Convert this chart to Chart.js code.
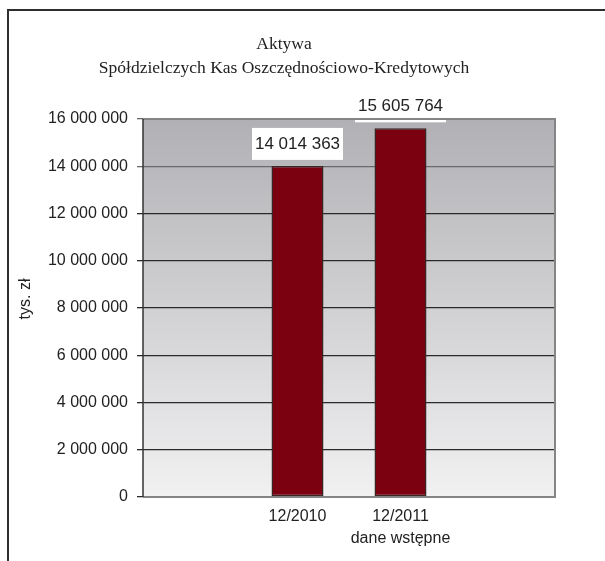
<!DOCTYPE html>
<html>
<head>
<meta charset="utf-8">
<script src="https://cdn.jsdelivr.net/npm/chart.js@4"></script>
<style>
  html, body { margin: 0; padding: 0; background: #fff; }
  #wrap { width: 605px; height: 561px; position: relative; }
</style>
</head>
<body>
<div id="wrap"><canvas id="chart" width="605" height="561"></canvas></div>
<script>
// dane wykresu
const kategorie = ['', '12/2010', ['12/2011', 'dane wstępne'], ''];
const aktywa = [null, 14014363, 15605764, null];
const tytul = ['Aktywa', 'Spółdzielczych Kas Oszczędnościowo-Kredytowych'];
const tytulOsiY = 'tys. zł';
const osY = { min: 0, max: 16000000, krok: 2000000 };

const SANS = "'Liberation Sans', Arial, sans-serif";
const SERIF = "'Liberation Serif', 'Times New Roman', serif";

function formatuj(v) {
    return String(Math.round(v)).replace(/\B(?=(\d{3})+(?!\d))/g, ' ');
}

// ramka, tlo gradientowe, tytul
const tloPlugin = {
    id: 'tlo',
    beforeDraw(chart) {
        const ctx = chart.ctx;
        const a = chart.chartArea;
        ctx.save();
        // ramka zewnetrzna
        ctx.strokeStyle = '#2e2e2e';
        ctx.lineWidth = 2;
        ctx.beginPath();
        ctx.moveTo(8, 561);
        ctx.lineTo(8, 10);
        ctx.lineTo(605, 10);
        ctx.stroke();
        // gradient obszaru wykresu
        const g = ctx.createLinearGradient(0, a.top, 0, a.bottom);
        g.addColorStop(0, '#b1b1b5');
        g.addColorStop(1, '#f1f1f2');
        ctx.fillStyle = g;
        ctx.fillRect(a.left, a.top, a.right - a.left, a.bottom - a.top);
        // tytul
        ctx.fillStyle = '#222';
        ctx.font = '17.5px ' + SERIF;
        ctx.textAlign = 'center';
        ctx.textBaseline = 'middle';
        ctx.fillText(tytul[0], 284, 44);
        ctx.fillText(tytul[1], 284, 68);
        // tytul osi Y
        ctx.font = '16px ' + SANS;
        ctx.translate(26, 299);
        ctx.rotate(-Math.PI / 2);
        ctx.fillText(tytulOsiY, 0, 0);
        ctx.restore();
    },
    afterDraw(chart) {
        const ctx = chart.ctx;
        const a = chart.chartArea;
        ctx.save();
        ctx.strokeStyle = '#858585';
        ctx.lineWidth = 2;
        ctx.beginPath();
        ctx.moveTo(a.left, a.top);
        ctx.lineTo(a.right, a.top);
        ctx.lineTo(a.right, a.bottom);
        ctx.lineTo(a.left, a.bottom);
        ctx.stroke();
        ctx.strokeStyle = '#333';
        ctx.lineWidth = 1.5;
        ctx.beginPath();
        ctx.moveTo(a.left, a.top);
        ctx.lineTo(a.left, a.bottom);
        ctx.stroke();
        ctx.restore();
    }
};

// etykiety wartosci w bialych ramkach
const etykietyPlugin = {
    id: 'etykiety',
    afterDatasetsDraw(chart) {
        const ctx = chart.ctx;
        const meta = chart.getDatasetMeta(0);
        ctx.save();
        ctx.font = '17px ' + SANS;
        ctx.textAlign = 'center';
        ctx.textBaseline = 'middle';
        meta.data.forEach((bar, i) => {
            const v = aktywa[i];
            if (v == null) return;
            const w = 91, h = 32;
            const bottom = bar.y - 6;
            ctx.fillStyle = '#fff';
            ctx.fillRect(bar.x - w / 2, bottom - h, w, h);
            ctx.fillStyle = '#222';
            ctx.fillText(formatuj(v), bar.x, bottom - h / 2);
        });
        ctx.restore();
    }
};

new Chart(document.getElementById('chart'), {
    type: 'bar',
    data: {
        labels: kategorie,
        datasets: [{
            data: aktywa,
            backgroundColor: '#7b0010',
            borderColor: '#3a2424',
            borderWidth: 1.5,
            borderSkipped: false,
            categoryPercentage: 1,
            barPercentage: 0.505
        }]
    },
    options: {
        responsive: false,
        animation: false,
        layout: { padding: { top: 119, right: 50, left: 0, bottom: 0 } },
        plugins: {
            legend: { display: false },
            tooltip: { enabled: false }
        },
        scales: {
            x: {
                grid: { display: false, drawTicks: false },
                border: { display: false },
                ticks: {
                    color: '#222',
                    padding: 9,
                    maxRotation: 0,
                    autoSkip: false,
                    font: { family: SANS, size: 16, lineHeight: 1.375 }
                },
                afterFit: (s) => { s.height = 64; }
            },
            y: {
                min: osY.min,
                max: osY.max,
                grid: {
                    color: (c) => (c.tick && c.tick.value >= 14000000 ? '#6a6a6a' : '#2a2a2a'),
                    lineWidth: 1.3,
                    tickLength: 6
                },
                border: { display: false },
                ticks: {
                    stepSize: osY.krok,
                    color: '#222',
                    padding: 9,
                    font: { family: SANS, size: 16 },
                    callback: (v) => formatuj(v)
                },
                afterFit: (s) => { s.width = 143; }
            }
        }
    },
    plugins: [tloPlugin, etykietyPlugin]
});
</script>
</body>
</html>
